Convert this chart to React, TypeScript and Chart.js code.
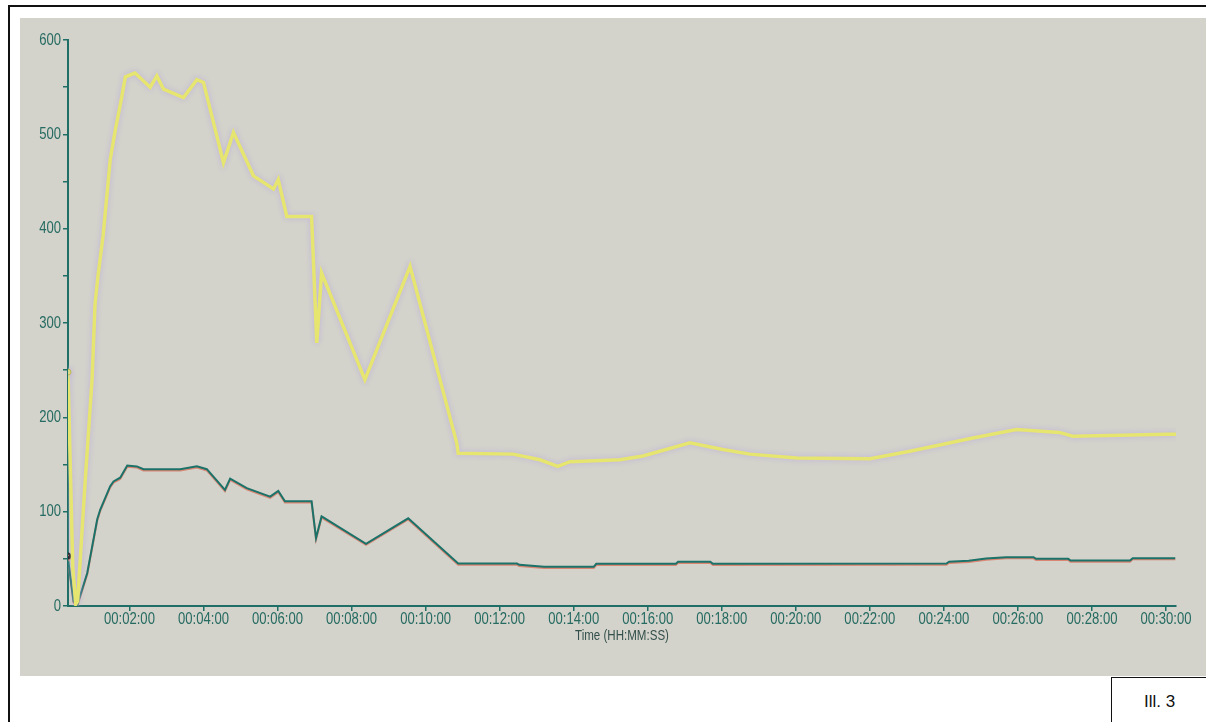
import React, { useEffect, useRef } from "react";
import { Chart, registerables } from "chart.js";

Chart.register(...registerables);

// time in minutes, values
const yellowTime = [0.34, 0.47, 0.55, 0.6, 0.8, 0.99, 1.07, 1.15, 1.29, 1.48, 1.62, 1.78, 1.89, 2.15, 2.56, 2.74, 2.92, 3.46, 3.82, 4.0, 4.54, 4.81, 5.35, 5.89, 6.02, 6.25, 6.92, 7.06, 7.19, 8.36, 9.58, 10.84, 10.88, 12.36, 13.09, 13.57, 13.9, 15.25, 15.87, 17.14, 18.03, 18.76, 20.03, 22.0, 23.08, 24.78, 25.96, 27.12, 27.48, 30.02, 30.27];
const yellowValues = [248, 40, 2, 5, 130, 240, 320, 350, 393, 473, 505, 537, 561, 565, 550, 562, 548, 539, 558, 555, 470, 502, 456, 442, 452, 413, 413, 279, 353, 240, 360, 173, 162, 161, 155, 148, 153, 155, 159, 173, 166, 161, 157, 156, 164, 178, 187, 184, 180, 182, 182];

const greenTime = [0.33, 0.49, 0.59, 0.86, 1.13, 1.21, 1.48, 1.57, 1.75, 1.94, 2.2, 2.38, 3.37, 3.82, 4.09, 4.58, 4.72, 5.17, 5.8, 6.02, 6.2, 6.92, 7.04, 7.19, 8.39, 9.53, 10.88, 12.47, 12.53, 13.2, 14.54, 14.61, 16.76, 16.82, 17.69, 17.76, 24.07, 24.14, 24.67, 25.14, 25.68, 26.42, 26.49, 27.36, 27.42, 29.03, 29.1, 30.25];
const greenValues = [53, 5, 1, 35, 92, 102, 127, 132, 136, 149, 148, 145, 145, 148, 145, 123, 135, 125, 116, 122, 111, 111, 72, 95, 66, 93, 45, 45, 43.7, 41.5, 41.5, 44.7, 44.7, 46.9, 46.9, 44.7, 45, 46.9, 47.9, 50.4, 51.8, 51.8, 50, 50, 48.2, 48.2, 50.7, 50.7];

const xTickMinutes = [2, 4, 6, 8, 10, 12, 14, 16, 18, 20, 22, 24, 26, 28, 30];
const yTickLabels = [0, 100, 200, 300, 400, 500, 600];
const xTitle = "Time (HH:MM:SS)";
const illLabel = "Ill. 3";

const AXIS = "#1f6f66";
const LABEL = "#256b61";
const FONT = '"Liberation Sans", Arial, sans-serif';
const NARROW = 0.77;

function fmt(m: number) {
  const mm = String(Math.round(m)).padStart(2, "0");
  return `00:${mm}:00`;
}

function narrowText(ctx: CanvasRenderingContext2D, text: string, x: number, y: number, align: "left" | "right" | "center") {
  ctx.save();
  ctx.translate(x, y);
  ctx.scale(NARROW, 1);
  ctx.textAlign = align;
  ctx.fillText(text, 0, 0);
  ctx.restore();
}

const shadowPlugin = {
  id: "lineShadow",
  beforeDatasetDraw(chart: any, args: any) {
    const ctx = chart.ctx;
    ctx.save();
    if (args.index === 0) {
      ctx.shadowColor = "rgba(185,170,225,0.8)";
      ctx.shadowBlur = 5;
    } else {
      ctx.shadowColor = "rgba(220,120,100,0.85)";
      ctx.shadowOffsetY = 1.2;
      ctx.shadowBlur = 0;
    }
  },
  afterDatasetDraw(chart: any) {
    chart.ctx.restore();
  },
};

const labelPlugin = {
  id: "narrowLabels",
  afterDraw(chart: any) {
    const ctx: CanvasRenderingContext2D = chart.ctx;
    const xs = chart.scales.x;
    const ys = chart.scales.y;
    ctx.save();
    ctx.fillStyle = LABEL;
    ctx.textBaseline = "middle";
    ctx.font = `17px ${FONT}`;
    for (const v of yTickLabels) {
      narrowText(ctx, String(v), ys.right - 7, ys.getPixelForValue(v), "right");
    }
    for (const m of xTickMinutes) {
      narrowText(ctx, fmt(m), xs.getPixelForValue(m), xs.top + 13, "center");
    }
    ctx.fillStyle = "#34504c";
    ctx.font = `15px ${FONT}`;
    narrowText(ctx, xTitle, (chart.chartArea.left + chart.chartArea.right) / 2, xs.top + 30, "center");
    ctx.restore();
  },
};

export default function App() {
  const ref = useRef<HTMLCanvasElement | null>(null);
  useEffect(() => {
    if (!ref.current) return;
    const yellowData = yellowTime.map((t, i) => ({ x: t, y: yellowValues[i] }));
    const greenData = greenTime.map((t, i) => ({ x: t, y: greenValues[i] }));
    const chart = new Chart(ref.current, {
      type: "line",
      data: {
        datasets: [
          {
            data: yellowData,
            borderColor: "#e5e570",
            borderWidth: 3.5,
            tension: 0,
            pointRadius: yellowData.map((_, i) => (i === 0 ? 3 : 0)),
            pointBackgroundColor: "#e5e570",
            pointBorderColor: "#b8b850",
            pointBorderWidth: 1,
          },
          {
            data: greenData,
            borderColor: "#1b7269",
            borderWidth: 2,
            tension: 0,
            pointRadius: greenData.map((_, i) => (i === 0 ? 2.5 : 0)),
            pointBackgroundColor: "#111",
            pointBorderColor: "#111",
          },
        ],
      },
      options: {
        responsive: false,
        animation: false,
        events: [],
        layout: { padding: { top: 22, right: 30, left: 0, bottom: 0 } },
        plugins: { legend: { display: false }, tooltip: { enabled: false } },
        scales: {
          x: {
            type: "linear",
            min: 0.34,
            max: 30.27,
            afterBuildTicks: (scale: any) => {
              scale.ticks = xTickMinutes.map((v) => ({ value: v }));
            },
            afterFit: (scale: any) => {
              scale.height = 70;
            },
            grid: { drawOnChartArea: false, drawTicks: true, tickLength: 5, color: AXIS, lineWidth: 1.5 },
            border: { color: AXIS, width: 2 },
            ticks: { display: false, autoSkip: false },
          },
          y: {
            min: 0,
            max: 600,
            afterFit: (scale: any) => {
              scale.width = 48;
            },
            grid: { drawOnChartArea: false, drawTicks: true, tickLength: 5, color: AXIS, lineWidth: 1.5 },
            border: { color: AXIS, width: 2 },
            ticks: { stepSize: 50, display: false },
          },
        },
      },
      plugins: [shadowPlugin, labelPlugin],
    });
    return () => chart.destroy();
  }, []);

  return (
    <div>
      <div
        style={{
          position: "absolute",
          left: 8,
          top: 5,
          width: 1220,
          height: 740,
          borderLeft: "2px solid #111",
          borderTop: "2px solid #111",
          boxSizing: "border-box",
        }}
      />
      <div
        style={{
          position: "absolute",
          left: 20,
          top: 18,
          width: 1186,
          height: 658,
          background: "#d3d2cb",
        }}
      >
        <canvas ref={ref} width={1186} height={658} style={{ display: "block" }} />
      </div>
      <div
        style={{
          position: "absolute",
          left: 1111,
          top: 677,
          width: 110,
          height: 60,
          borderLeft: "1px solid #111",
          borderTop: "1px solid #111",
          boxSizing: "border-box",
        }}
      >
        <div
          style={{
            position: "absolute",
            left: 0,
            width: 95,
            top: 14,
            textAlign: "center",
            fontFamily: '"Liberation Sans", Arial, sans-serif',
            fontSize: 17,
            color: "#111",
          }}
        >
          {illLabel}
        </div>
      </div>
    </div>
  );
}
